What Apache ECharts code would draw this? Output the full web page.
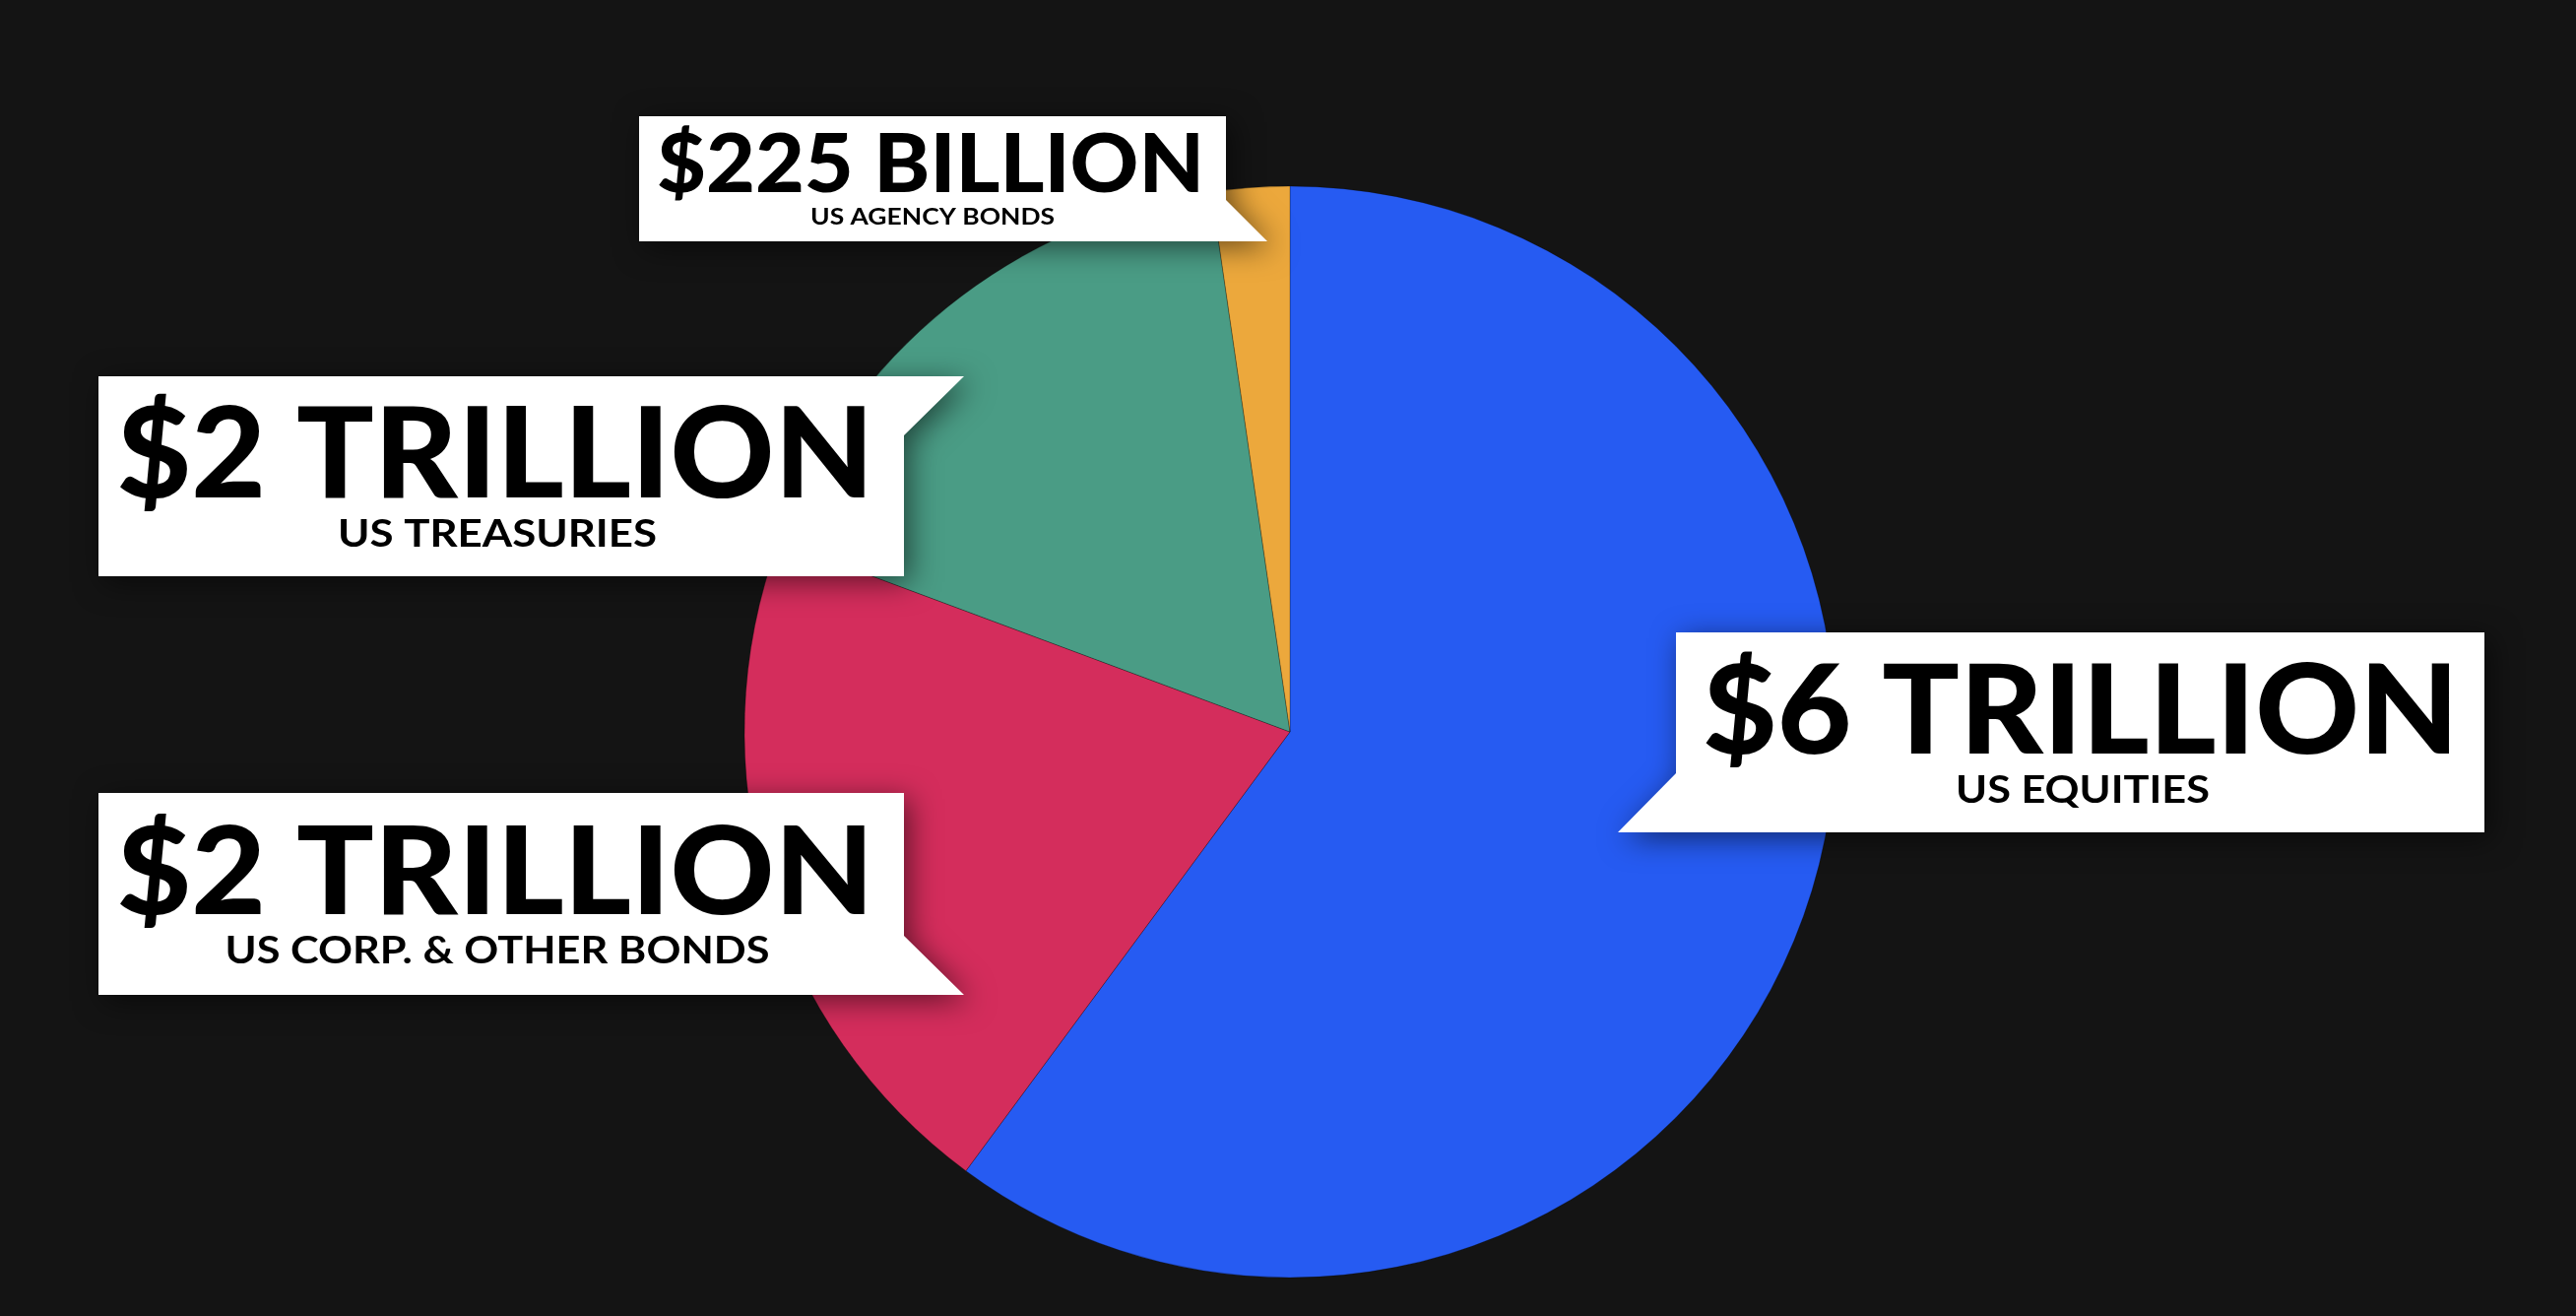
<!DOCTYPE html>
<html>
<head>
<meta charset="utf-8">
<script src="https://cdn.jsdelivr.net/npm/echarts@6/dist/echarts.min.js"></script>
<style>
  html, body { margin: 0; padding: 0; background: #141414; }
  #chart { width: 2616px; height: 1336px; }
</style>
</head>
<body>
<div id="chart"></div>
<script>
// ---- data (billions of USD), clockwise from 12 o'clock ----
const categories  = ['US Equities', 'US Corp. & Other Bonds', 'US Treasuries', 'US Agency Bonds'];
const valuesBn    = [5880, 2010, 1665, 225];
const valueLabels = ['$6 TRILLION', '$2 TRILLION', '$2 TRILLION', '$225 BILLION'];
const subLabels   = ['US EQUITIES', 'US CORP. & OTHER BONDS', 'US TREASURIES', 'US AGENCY BONDS'];
const sliceColors = ['#265BF2', '#D42D5C', '#4A9C85', '#ECA83C'];

// ---- layout of callout boxes (pixels) ----
const boxes = [
  { pts: [[1702,642],[2523,642],[2523,845],[1643,845],[1702,785]],
    big: { cx: 2113, capTop: 675, base: 765, w: 768 },
    small: { cx: 2115, capTop: 787, base: 815, w: 258 } },
  { pts: [[100,805],[918,805],[918,950],[979,1010],[100,1010]],
    big: { cx: 503, capTop: 839, base: 928, w: 769 },
    small: { cx: 505, capTop: 951, base: 978, w: 553 } },
  { pts: [[100,382],[979,382],[918,442],[918,585],[100,585]],
    big: { cx: 503, capTop: 413, base: 505, w: 769 },
    small: { cx: 505, capTop: 527, base: 555, w: 324 } },
  { pts: [[649,118],[1245,118],[1245,203],[1287,245],[649,245]],
    big: { cx: 945, capTop: 137, base: 195, w: 556 },
    small: { cx: 947, capTop: 212, base: 228, w: 248 } }
];

const CAP = 0.7165; // Lato cap-height ratio
const measureCtx = document.createElement('canvas').getContext('2d');
function textEl(str, spec, weight) {
  const size = Math.round((spec.base - spec.capTop) / CAP);
  const font = weight + ' ' + size + 'px Lato';
  measureCtx.font = font;
  const mw = measureCtx.measureText(str).width;
  const sx = spec.w / mw;
  // canvas 'middle' sits ~0.3225em above baseline for Lato
  const y = spec.base - 0.3225 * size;
  return {
    type: 'text', x: spec.cx, y: y, scaleX: sx, z: 101, silent: true,
    style: { text: str, x: 0, y: 0, font: font, fill: '#000000',
             align: 'center', verticalAlign: 'middle' }
  };
}

const graphics = [];
boxes.forEach(function (b, i) {
  graphics.push({
    type: 'polygon', z: 100, silent: true,
    shape: { points: b.pts },
    style: { fill: '#FFFFFF', shadowBlur: 30, shadowColor: 'rgba(0,0,0,0.55)',
             shadowOffsetX: 6, shadowOffsetY: 6 }
  });
  graphics.push(textEl(valueLabels[i], b.big, 900));
  graphics.push(textEl(subLabels[i], b.small, 700));
});

const chart = echarts.init(document.getElementById('chart'), null, { renderer: 'canvas' });
chart.setOption({
  backgroundColor: '#141414',
  animation: false,
  series: [{
    type: 'pie',
    center: [1310, 743],
    radius: 554,
    startAngle: 90,
    clockwise: true,
    silent: true,
    label: { show: false },
    labelLine: { show: false },
    itemStyle: { borderColor: 'rgba(0,0,0,0.25)', borderWidth: 1 },
    data: categories.map(function (c, i) {
      return { name: c, value: valuesBn[i], itemStyle: { color: sliceColors[i] } };
    })
  }],
  graphic: graphics
});
</script>
</body>
</html>
